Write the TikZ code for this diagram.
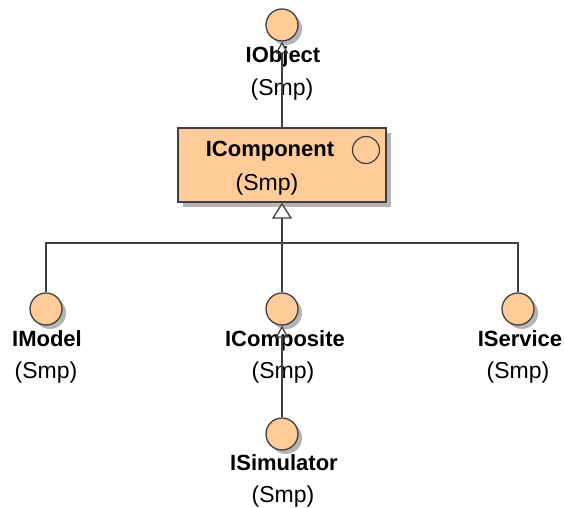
\documentclass[tikz,border=0pt]{standalone}
\usepackage{fontspec}
\setmainfont{Liberation Sans}
\usetikzlibrary{arrows.meta,shadows}

\definecolor{ifill}{HTML}{FFCC99}
\definecolor{iline}{HTML}{404040}
\definecolor{ishadow}{HTML}{B4B4B4}

\tikzset{
  iface/.style={circle, draw=iline, line width=1.3pt, fill=ifill,
    minimum size=32pt, inner sep=0pt,
    drop shadow={shadow xshift=4pt, shadow yshift=-4pt, fill=ishadow, opacity=1}},
  classbox/.style={rectangle, draw=iline, line width=1.3pt, fill=ifill,
    minimum width=208pt, minimum height=74pt, inner sep=0pt,
    drop shadow={shadow xshift=5pt, shadow yshift=-5pt, fill=ishadow, opacity=1}},
  marker/.style={circle, draw=iline, line width=1.2pt, minimum size=27pt, inner sep=0pt},
  ifname/.style={anchor=base, inner sep=0pt, font=\fontsize{22}{26}\selectfont\bfseries},
  pkg/.style={anchor=base, inner sep=0pt, font=\fontsize{23}{27}\selectfont},
  conn/.style={draw=iline, line width=1.3pt},
  realize/.style={conn, -{Triangle[open, length=12pt, width=13pt]}},
  generalize/.style={conn, -{Triangle[length=16pt, width=20pt, fill=white]}},
}

\begin{document}
\begin{tikzpicture}[x=1pt, y=-1pt]
  \useasboundingbox (0,0) rectangle (565,508);

  % interface symbols
  \node[iface] (obj) at (282,25) {};
  \node[iface] (model) at (46,309) {};
  \node[iface] (composite) at (282,309) {};
  \node[iface] (service) at (518,309) {};
  \node[iface] (sim) at (282,434) {};

  % the component class
  \node[classbox] (comp) at (282,165) {};
  \node[marker] (compmark) at (366,150) {};

  % names and packages
  \node[ifname] (objname) at (283,63) {IObject};
  \node[pkg]    (objpkg)  at (282,96) {(Smp)};
  \node[ifname] (compname) at (270,157) {IComponent};
  \node[pkg]    (comppkg)  at (267,190) {(Smp)};
  \node[ifname] (modelname) at (47,346) {IModel};
  \node[pkg]    (modelpkg)  at (46,378) {(Smp)};
  \node[ifname] (compositename) at (285,346) {IComposite};
  \node[pkg]    (compositepkg)  at (283,378) {(Smp)};
  \node[ifname] (servicename) at (520,346) {IService};
  \node[pkg]    (servicepkg)  at (518,378) {(Smp)};
  \node[ifname] (simname) at (284,470) {ISimulator};
  \node[pkg]    (simpkg)  at (283,502) {(Smp)};

  % connectors
  \coordinate (bar) at (282,243);
  \draw[realize] (comp.north) -- (obj.south);
  \draw[conn] (model.north) |- (bar) -| (service.north);
  \draw[conn] (composite.north) -- (bar);
  \draw[generalize] (bar) -- (comp.south);
  \draw[realize] (sim.north) -- (composite.south);
\end{tikzpicture}
\end{document}
